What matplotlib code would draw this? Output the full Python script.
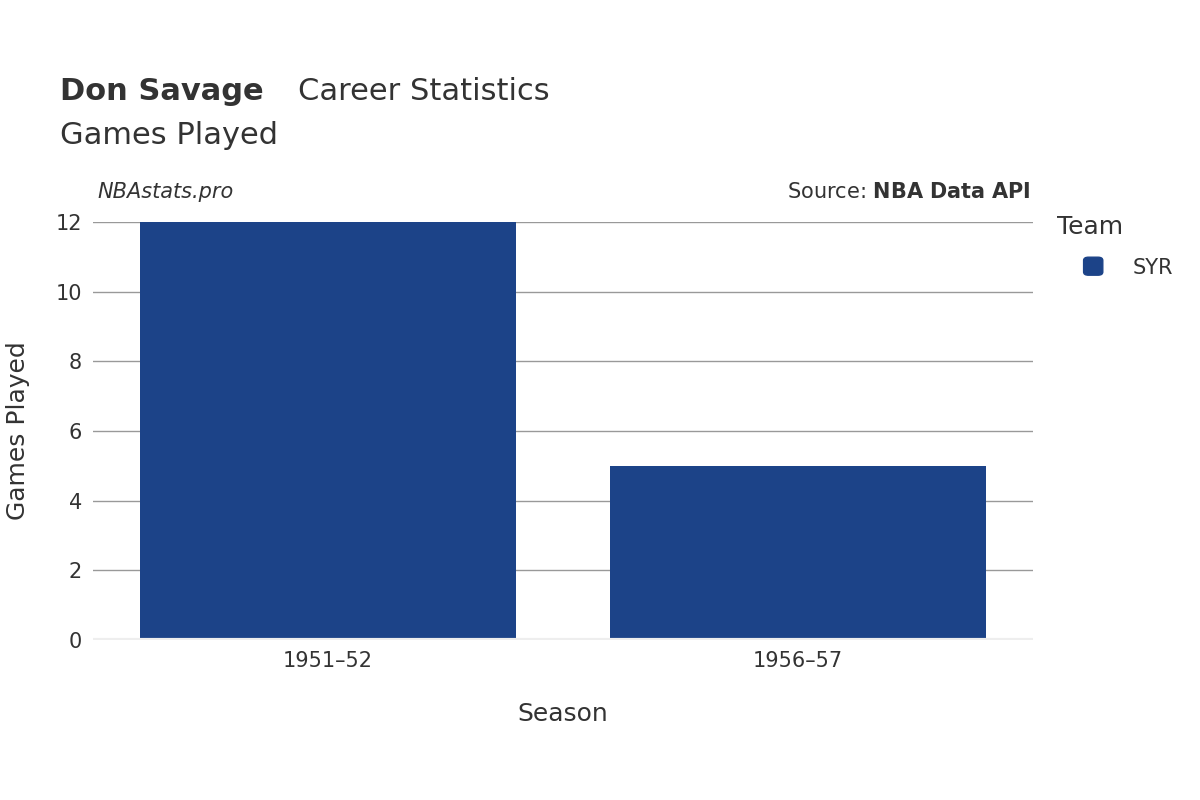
import matplotlib.pyplot as plt
from matplotlib.patches import FancyBboxPatch

# Data
seasons = ["1951\u201352", "1956\u201357"]
games = [12, 5]
team = "SYR"
bar_color = "#1c4388"
text_color = "#333333"

fig = plt.figure(figsize=(12, 8), dpi=100)
ax = fig.add_axes([0.0775, 0.2, 0.7833, 0.5225])

x = list(range(len(seasons)))
ax.bar(x, games, width=0.8, color=bar_color, zorder=3)

ax.set_xlim(-0.5, len(seasons) - 0.5)
ax.set_ylim(0, 12)
ax.set_yticks(range(0, 13, 2))
ax.set_xticks(x)
ax.set_xticklabels(seasons)
ax.tick_params(axis="both", length=0, labelsize=15, colors=text_color, pad=8)
ax.grid(axis="y", color="#999999", linewidth=1, zorder=0)
ax.axhline(0, color="#eeeeee", linewidth=3, zorder=4)
for s in ax.spines.values():
    s.set_visible(False)

ax.set_xlabel("Season", fontsize=18, color=text_color, labelpad=22)
ax.set_ylabel("Games Played", fontsize=18, color=text_color, labelpad=18)

# Titles
fig.text(0.05, 0.875, "Don Savage", fontsize=22, fontweight="bold", color=text_color, va="baseline")
fig.text(0.2485, 0.875, "Career Statistics", fontsize=22, color=text_color, va="baseline")
fig.text(0.05, 0.82, "Games Played", fontsize=22, color=text_color, va="baseline")

fig.text(0.081, 0.752, "NBAstats.pro", fontsize=15, style="italic", color=text_color, va="baseline")
fig.text(0.859, 0.752, r"Source: $\bf{NBA\ Data\ API}$", fontsize=15, color=text_color,
         va="baseline", ha="right")

# Legend
fig.text(0.881, 0.707, "Team", fontsize=18, color=text_color, va="baseline")
fig.patches.append(FancyBboxPatch((0.903, 0.656), 0.016, 0.0225, boxstyle="round,pad=0,rounding_size=0.004",
                                  transform=fig.transFigure, color=bar_color))
fig.text(0.944, 0.658, team, fontsize=15, color=text_color, va="baseline")

fig.savefig("out.png")
